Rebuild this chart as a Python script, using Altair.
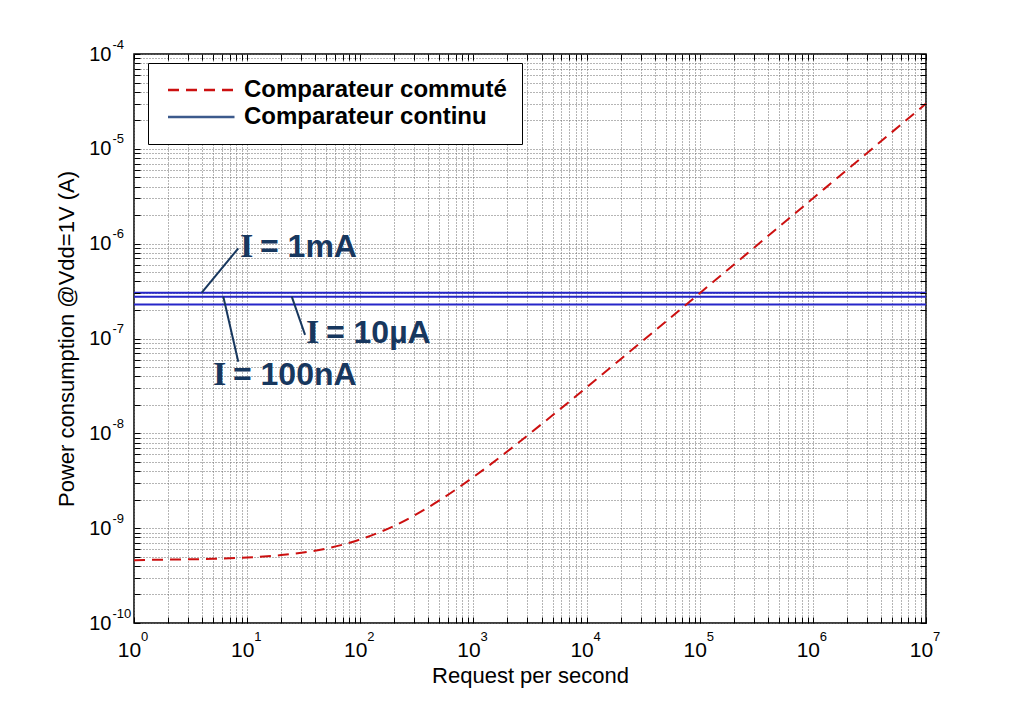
import altair as alt
import pandas as pd

# ---------------- data ----------------
rate = [1, 2, 5, 10, 20, 50, 100, 200, 500, 1e3, 2e3, 5e3, 1e4, 2e4, 5e4,
        1e5, 2e5, 5e5, 1e6, 2e6, 5e6, 1e7]
power_switched = [4.6e-10, 4.66e-10, 4.75e-10, 4.9e-10, 5.2e-10, 6.1e-10, 7.6e-10,
                  1.06e-9, 1.96e-9, 3.46e-9, 6.46e-9, 1.55e-8, 3.05e-8, 6.05e-8,
                  1.5e-7, 3.0e-7, 6.0e-7, 1.5e-6, 3.0e-6, 6.0e-6, 1.5e-5, 3.0e-5]
series_names = ["Comparateur commuté", "Comparateur continu"]

continuous_levels = [3.04e-7, 2.76e-7, 2.29e-7]
continuous_start = [1, 1, 1]
continuous_end = [1e7, 1e7, 1e7]

ann_symbol = ["I", "I", "I"]
ann_rest = ["= 1mA", "= 10µA", "= 100nA"]
ann_x = [8.65, 33.1, 4.99]
ann_y = [7.23e-7, 8.96e-8, 3.23e-8]
lead_x1 = [3.97, 24.8, 6.16]
lead_y1 = [3.04e-7, 2.76e-7, 2.76e-7]
lead_x2 = [8.35, 32.5, 8.35]
lead_y2 = [8.93e-7, 1.09e-7, 5.69e-8]

x_decades = [1, 10, 100, 1e3, 1e4, 1e5, 1e6, 1e7]
y_decades = [1e-10, 1e-9, 1e-8, 1e-7, 1e-6, 1e-5, 1e-4]
x_minor = [m * 10.0 ** e for e in range(0, 7) for m in range(1, 10)] + [1e7]
y_minor = [m * 10.0 ** e for e in range(-10, -4) for m in range(1, 10)] + [1e-4]

RED = "#cc1010"
LEGEND_BLUE = "#3c5a8c"
LINE_BLUE = "#2626c8"
NAVY = "#17375e"
FONT = "Liberation Sans"

df_curve = pd.DataFrame({"rate": rate, "power": power_switched,
                         "series": [series_names[0]] * len(rate)})
df_levels = pd.DataFrame({"level": continuous_levels, "x0": continuous_start,
                          "x1": continuous_end})
df_ann = pd.DataFrame({"sym": ann_symbol, "rest": ann_rest, "ax": ann_x, "ay": ann_y,
                       "lx1": lead_x1, "ly1": lead_y1, "lx2": lead_x2, "ly2": lead_y2})

xs = alt.Scale(type="log", domain=[1, 1e7], nice=False)
ys = alt.Scale(type="log", domain=[1e-10, 1e-4], nice=False)

EXP = "'' + round(log(datum.value) / LN10)"

common = dict(labelFlush=False, labelOverlap=False, labelBound=False,
              labelFont=FONT, labelColor="black")

# axis that shows the "10" part of tick labels + titles
x_ten = alt.Axis(orient="bottom", values=x_decades, labelExpr="'10'", ticks=False,
                 domain=False, grid=False, labelFontSize=21, labelPadding=16,
                 labelOffset=-5, title="Request per second", titleFont=FONT,
                 titleFontSize=22, titleFontWeight="normal", titleColor="black",
                 titlePadding=5, zindex=1, **common)
y_ten = alt.Axis(orient="left", values=y_decades, labelExpr="'10'", ticks=False,
                 domain=False, grid=False, labelFontSize=20, labelPadding=23,
                 title="Power consumption @Vdd=1V (A)", titleFont=FONT,
                 titleFontSize=22, titleFontWeight="normal", titleColor="black",
                 titlePadding=10, zindex=1, **common)
# exponents
x_exp = alt.Axis(orient="bottom", values=x_decades, labelExpr=EXP, ticks=False,
                 domain=False, grid=False, labelFontSize=13, labelPadding=7,
                 labelAlign="left", labelOffset=6.5, title=None, zindex=1, **common)
y_exp = alt.Axis(orient="left", values=y_decades, labelExpr=EXP, ticks=False,
                 domain=False, grid=False, labelFontSize=13, labelPadding=22,
                 labelAlign="left", labelOffset=-10, title=None, zindex=1, **common)
# grid
x_grid = alt.Axis(orient="bottom", values=x_minor, labels=False, ticks=False,
                  domain=False, grid=True, gridDash=[1, 2], gridColor="#6a6a6a",
                  gridWidth=1, title=None, zindex=0)
y_grid = alt.Axis(orient="left", values=y_minor, labels=False, ticks=False,
                  domain=False, grid=True, gridDash=[1, 2], gridColor="#6a6a6a",
                  gridWidth=1, title=None, zindex=0)


def tick_axis(orient, values):
    return alt.Axis(orient=orient, values=values, labels=False, ticks=True,
                    tickSize=6, tickColor="black", tickWidth=1, offset=-6,
                    domain=False, grid=False, title=None, zindex=1)


legend = alt.Legend(title=None, orient="none", legendX=14, legendY=9,
                    direction="vertical", symbolType="M-1,0H8.5", symbolSize=196,
                    symbolStrokeWidth=2.5, labelFont=FONT, labelFontWeight="bold",
                    labelFontSize=24, labelColor="black", labelOffset=57,
                    labelExpr="datum.label + '\u00a0\u00a0\u00a0\u00a0'",
                    padding=15, strokeColor="black", fillColor="white",
                    rowPadding=3, labelLimit=600)

grid_layer = alt.Chart(df_curve).mark_line(opacity=0).encode(
    x=alt.X("rate:Q", scale=xs, axis=x_grid),
    y=alt.Y("power:Q", scale=ys, axis=y_grid),
)

ticks_bl = alt.Chart(df_curve).mark_line(opacity=0).encode(
    x=alt.X("rate:Q", scale=xs, axis=tick_axis("bottom", x_minor)),
    y=alt.Y("power:Q", scale=ys, axis=tick_axis("left", y_minor)),
)
ticks_tr = alt.Chart(df_curve).mark_line(opacity=0).encode(
    x=alt.X("rate:Q", scale=xs, axis=tick_axis("top", x_minor)),
    y=alt.Y("power:Q", scale=ys, axis=tick_axis("right", y_minor)),
)

levels = alt.Chart(df_levels).mark_rule(color=LINE_BLUE, strokeWidth=2).encode(
    x=alt.X("x0:Q", scale=xs, axis=x_exp),
    x2="x1:Q",
    y=alt.Y("level:Q", scale=ys, axis=y_exp),
)

curve = alt.Chart(df_curve).mark_line(strokeWidth=2, interpolate="monotone").encode(
    x=alt.X("rate:Q", scale=xs, axis=x_ten),
    y=alt.Y("power:Q", scale=ys, axis=y_ten),
    color=alt.Color("series:N",
                    scale=alt.Scale(domain=series_names, range=[RED, LEGEND_BLUE]),
                    legend=legend),
    strokeDash=alt.StrokeDash("series:N",
                              scale=alt.Scale(domain=series_names,
                                              range=[[11, 7], [1, 0]]),
                              legend=legend),
)

leaders = alt.Chart(df_ann).mark_rule(color=NAVY, strokeWidth=2).encode(
    x=alt.X("lx1:Q", scale=xs, axis=None),
    y=alt.Y("ly1:Q", scale=ys, axis=None),
    x2="lx2:Q",
    y2="ly2:Q",
)
ann_i = alt.Chart(df_ann).mark_text(font="Liberation Serif", fontWeight="bold",
                                    fontSize=34, align="left", baseline="alphabetic",
                                    color=NAVY).encode(
    x=alt.X("ax:Q", scale=xs, axis=None),
    y=alt.Y("ay:Q", scale=ys, axis=None),
    text="sym:N",
)
ann_rest_layer = alt.Chart(df_ann).mark_text(font=FONT, fontWeight="bold",
                                             fontSize=32, align="left",
                                             baseline="alphabetic", dx=20,
                                             color=NAVY).encode(
    x=alt.X("ax:Q", scale=xs, axis=None),
    y=alt.Y("ay:Q", scale=ys, axis=None),
    text="rest:N",
)

chart = alt.layer(
    grid_layer, ticks_bl, ticks_tr, levels, curve, leaders, ann_i, ann_rest_layer
).resolve_axis(x="independent", y="independent").properties(
    width=792, height=569,
    autosize=alt.AutoSizeParams(type="none"),
    padding={"left": 126, "top": 46, "right": 80, "bottom": 70},
    background="white",
).configure_view(stroke="black", strokeWidth=1.5)

chart.save("out.html", embed_options={"renderer": "svg", "actions": False})
